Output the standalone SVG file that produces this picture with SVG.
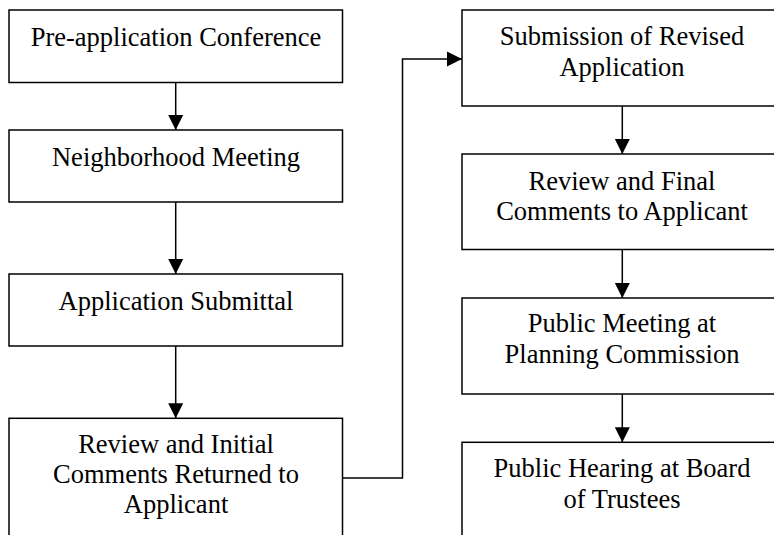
<svg xmlns="http://www.w3.org/2000/svg" width="774" height="535" viewBox="0 0 774 535">
<defs>
<style>
.box{fill:#fff;stroke:#000;stroke-width:1.5}
.lbl{font-family:"Liberation Serif","Times New Roman",serif;font-size:26.5px;fill:#000;text-anchor:middle}
.ln{fill:none;stroke:#000;stroke-width:1.5}
</style>
<marker id="ah" markerUnits="userSpaceOnUse" markerWidth="16" markerHeight="16" viewBox="0 0 16 16" refX="15" refY="8" orient="auto">
<path d="M0,0.5 L15,8 L0,15.5 Z" fill="#000"/>
</marker>
</defs>
<rect width="774" height="535" fill="#fff"/>
<g id="n1"><rect class="box" x="9" y="10" width="333.5" height="72.5"/><text class="lbl" x="176" y="46">Pre-application Conference</text></g>
<g id="n2"><rect class="box" x="9" y="130" width="333.5" height="72"/><text class="lbl" x="176" y="166">Neighborhood Meeting</text></g>
<g id="n3"><rect class="box" x="9" y="274" width="333.5" height="72"/><text class="lbl" x="176" y="310">Application Submittal</text></g>
<g id="n4"><rect class="box" x="9" y="418.3" width="333.5" height="130"/><text class="lbl" x="176" y="453.3">Review and Initial</text><text class="lbl" x="176" y="483.3">Comments Returned to</text><text class="lbl" x="176" y="513.3">Applicant</text></g>
<g id="n5"><rect class="box" x="462" y="10" width="320" height="96"/><text class="lbl" x="622" y="45">Submission of Revised</text><text class="lbl" x="622" y="76">Application</text></g>
<g id="n6"><rect class="box" x="462" y="154" width="320" height="95.5"/><text class="lbl" x="622" y="190">Review and Final</text><text class="lbl" x="622" y="220">Comments to Applicant</text></g>
<g id="n7"><rect class="box" x="462" y="298" width="320" height="96"/><text class="lbl" x="622" y="332">Public Meeting at</text><text class="lbl" x="622" y="363">Planning Commission</text></g>
<g id="n8"><rect class="box" x="462" y="442.3" width="320" height="110"/><text class="lbl" x="622" y="477">Public Hearing at Board</text><text class="lbl" x="622" y="507.5">of Trustees</text></g>
<g id="connectors">
<line class="ln" x1="175.7" y1="82.5" x2="175.7" y2="130" marker-end="url(#ah)"/>
<line class="ln" x1="175.7" y1="202" x2="175.7" y2="274" marker-end="url(#ah)"/>
<line class="ln" x1="175.7" y1="346" x2="175.7" y2="418.3" marker-end="url(#ah)"/>
<polyline class="ln" points="342.5,478 402.5,478 402.5,59 462,59" marker-end="url(#ah)"/>
<line class="ln" x1="622.3" y1="106" x2="622.3" y2="154" marker-end="url(#ah)"/>
<line class="ln" x1="622.3" y1="249.5" x2="622.3" y2="298" marker-end="url(#ah)"/>
<line class="ln" x1="622.3" y1="394" x2="622.3" y2="442.3" marker-end="url(#ah)"/>
</g>
</svg>
